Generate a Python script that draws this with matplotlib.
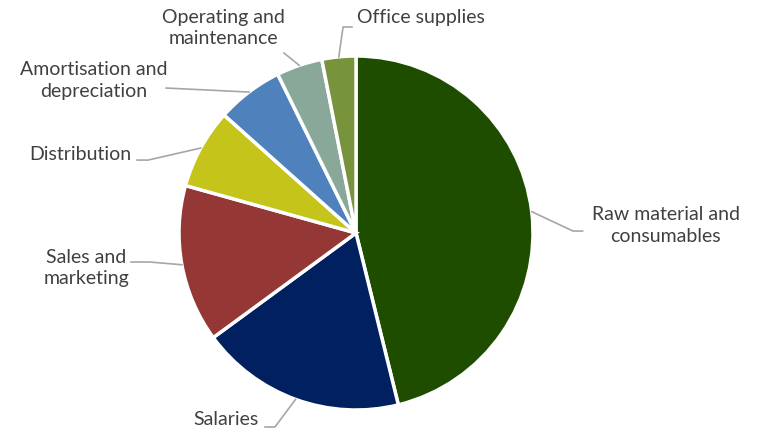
import numpy as np
import matplotlib.pyplot as plt

labels = ["Raw material and\nconsumables", "Salaries", "Sales and\nmarketing",
          "Distribution", "Amortisation and\ndepreciation",
          "Operating and\nmaintenance", "Office supplies"]
shares = [46.2, 18.8, 14.4, 7.3, 6.1, 4.2, 3.1]
colors = ["#1E4D00", "#002060", "#953735", "#C4C41A", "#4F81BD", "#8AA899", "#77933C"]

# label text position, leader elbow, leader end (axes data units, radius = 1)
label_pos = [(1.75, 0.04), (-0.734, -1.051), (-1.525, -0.198), (-1.559, 0.446),
             (-1.480, 0.864), (-0.751, 1.158), (0.367, 1.215)]
elbows = [(1.226, 0.011), (-0.458, -1.096), (-1.164, -0.164), (-1.175, 0.412),
          (-1.073, 0.819), (-0.407, 1.017), (-0.073, 1.164)]
ends = [(1.28, 0.011), (-0.514, -1.096), (-1.271, -0.164), (-1.237, 0.412),
        (-1.073, 0.819), (-0.407, 1.017), (-0.023, 1.164)]

plt.rcParams['font.family'] = ['Lato', 'DejaVu Sans']

fig = plt.figure(figsize=(7.61, 4.30), dpi=100)
ax = fig.add_axes([(356 - 177) / 761, (430 - 233 - 177) / 430, 354 / 761, 354 / 430])
wedges, _ = ax.pie(shares, colors=colors, startangle=90, counterclock=False, radius=1,
                   wedgeprops=dict(edgecolor="white", linewidth=2.5))
ax.set_xlim(-1, 1)
ax.set_ylim(-1, 1)
ax.axis("off")

for w, lab, tp, el, en in zip(wedges, labels, label_pos, elbows, ends):
    mid = np.deg2rad((w.theta1 + w.theta2) / 2)
    sx, sy = np.cos(mid), np.sin(mid)
    ax.plot([sx, el[0], en[0]], [sy, el[1], en[1]], color="#A6A6A6", lw=1.2, clip_on=False)
    ax.text(tp[0], tp[1], lab, ha="center", va="center", fontsize=14,
            color="#404040", linespacing=1.35, clip_on=False)

fig.savefig("out.png", dpi=100)
